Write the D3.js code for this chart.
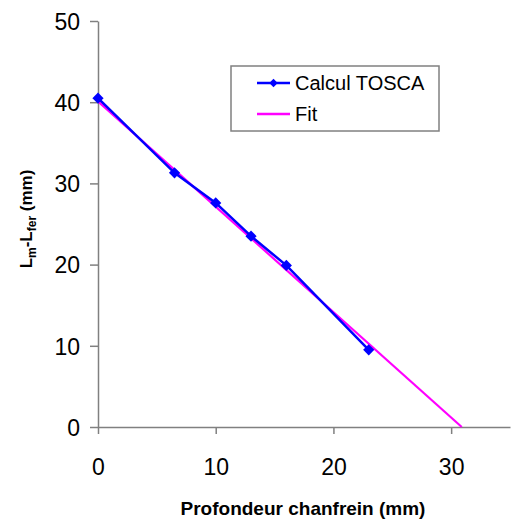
<!DOCTYPE html>
<html>
<head>
<meta charset="utf-8">
<script src="https://cdn.jsdelivr.net/npm/d3@7"></script>
<style>
  body { margin: 0; background: #fff; }
  text { font-family: "Liberation Sans", Arial, sans-serif; }
</style>
</head>
<body>
<svg id="chart" width="516" height="520"></svg>
<script>
// Calcul TOSCA points
const depth = [0, 6.5, 10, 13, 16, 23]
const lengths = [40.5, 31.3, 27.6, 23.5, 19.9, 9.5]
// linear fit, end points
const fitX = [0, 30.9]
const fitY = [40.1, 0]

const xTicks = [0, 10, 20, 30]
const yTicks = [0, 10, 20, 30, 40, 50]

const svg = d3.select('#chart')
const axisColor = '#808080'

const x = d3.scaleLinear().domain([0, 35]).range([98, 510])
const y = d3.scaleLinear().domain([0, 50]).range([427, 21])

const xAxis = svg.append('g')
    .attr('transform', `translate(0,${y(0)})`)
    .call(d3.axisBottom(x).tickValues(xTicks).tickSize(7).tickPadding(25).tickSizeOuter(0))
const yAxis = svg.append('g')
    .attr('transform', `translate(${x(0)},0)`)
    .call(d3.axisLeft(y).tickValues(yTicks).tickSize(8).tickPadding(10).tickSizeOuter(0))

for (const a of [xAxis, yAxis]) {
    a.select('.domain').attr('stroke', axisColor).attr('stroke-width', 1.5)
    a.selectAll('.tick line').attr('stroke', axisColor).attr('stroke-width', 1.5)
    a.selectAll('.tick text')
        .attr('fill', '#000')
        .style('font-size', '23px')
        .style('font-family', '"Liberation Sans", Arial, sans-serif')
}
yAxis.selectAll('.tick text').attr('dy', '0.36em')

// fit line
const fitPts = fitX.map((v, i) => [v, fitY[i]])
const pts = depth.map((v, i) => [v, lengths[i]])

const line = d3.line().x(d => x(d[0])).y(d => y(d[1]))

svg.append('path')
    .datum(fitPts)
    .attr('d', line)
    .attr('fill', 'none')
    .attr('stroke', '#ff00ff')
    .attr('stroke-width', 2.2)

svg.append('path')
    .datum(pts)
    .attr('d', line)
    .attr('fill', 'none')
    .attr('stroke', '#0000ff')
    .attr('stroke-width', 2.5)

const diamond = d3.symbol().type(d3.symbolDiamond2).size(80)

svg.append('g').selectAll('path')
    .data(pts)
    .enter()
    .append('path')
    .attr('d', diamond)
    .attr('transform', d => `translate(${x(d[0])},${y(d[1])})`)
    .attr('fill', '#0000ff')

// legend
const legend = svg.append('g')
legend.append('rect')
    .attr('x', 231).attr('y', 66)
    .attr('width', 208).attr('height', 65)
    .attr('fill', '#fff')
    .attr('stroke', axisColor)
    .attr('stroke-width', 1.5)

const legendItems = [
    {label: 'Calcul TOSCA', color: '#0000ff', marker: true},
    {label: 'Fit', color: '#ff00ff', marker: false}
]

legendItems.forEach((d, i) => {
    const ly = 83 + i * 31
    legend.append('line')
        .attr('x1', 257).attr('x2', 290)
        .attr('y1', ly).attr('y2', ly)
        .attr('stroke', d.color)
        .attr('stroke-width', 2.5)
    if (d.marker) {
        legend.append('path')
            .attr('d', d3.symbol().type(d3.symbolDiamond2).size(45))
            .attr('transform', `translate(273.5,${ly})`)
            .attr('fill', d.color)
    }
    legend.append('text')
        .attr('x', 295).attr('y', ly + 7)
        .style('font-size', '20px')
        .text(d.label)
})

// axis titles
svg.append('text')
    .attr('x', 303).attr('y', 515)
    .attr('text-anchor', 'middle')
    .style('font-size', '19px')
    .style('font-weight', 'bold')
    .text('Profondeur chanfrein (mm)')

const yTitle = svg.append('text')
    .attr('transform', 'translate(32,219) rotate(-90)')
    .attr('text-anchor', 'middle')
    .style('font-size', '17px')
    .style('font-weight', 'bold')
yTitle.append('tspan').text('L')
yTitle.append('tspan').attr('dy', 4).style('font-size', '12px').text('m')
yTitle.append('tspan').attr('dy', -4).text('-L')
yTitle.append('tspan').attr('dy', 4).style('font-size', '12px').text('fer')
yTitle.append('tspan').attr('dy', -4).text(' (mm)')
</script>
</body>
</html>
